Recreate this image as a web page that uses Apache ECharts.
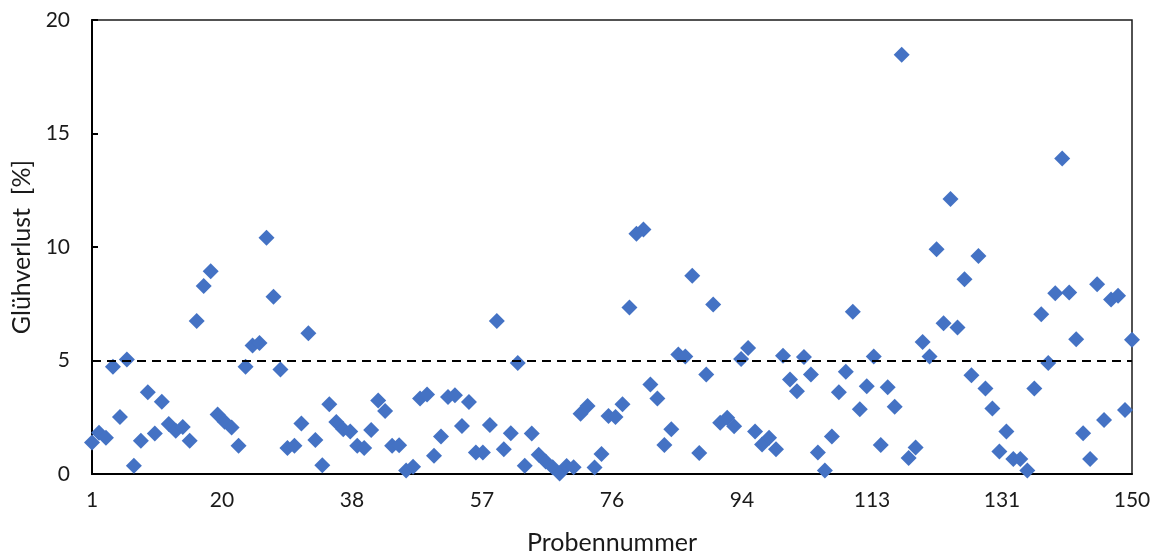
<!DOCTYPE html>
<html>
<head>
<meta charset="utf-8">
<script src="https://cdn.jsdelivr.net/npm/echarts@6/dist/echarts.min.js"></script>
<style>
  html, body { margin: 0; padding: 0; background: #fff; }
  #chart { width: 1157px; height: 560px; }
</style>
</head>
<body>
<div id="chart"></div>
<script>
// Glühverlust je Probe (Probennummer 1..150), in %
const lossValues = [
  1.39, 1.82, 1.60, 4.72, 2.51, 5.04, 0.36, 1.46, 3.60, 1.78,
  3.18, 2.20, 1.90, 2.07, 1.46, 6.74, 8.28, 8.93, 2.62, 2.30,
  2.05, 1.24, 4.72, 5.66, 5.77, 10.41, 7.81, 4.60, 1.14, 1.24,
  2.23, 6.20, 1.50, 0.39, 3.07, 2.29, 1.97, 1.87, 1.24, 1.14,
  1.94, 3.24, 2.77, 1.24, 1.27, 0.15, 0.32, 3.33, 3.50, 0.80,
  1.65, 3.39, 3.47, 2.12, 3.17, 0.95, 0.95, 2.16, 6.74, 1.09,
  1.80, 4.89, 0.36, 1.78, 0.85, 0.55, 0.30, 0.02, 0.35, 0.30,
  2.65, 3.00, 0.29, 0.88, 2.55, 2.51, 3.07, 7.33, 10.58, 10.77,
  3.94, 3.33, 1.28, 1.97, 5.26, 5.18, 8.73, 0.92, 4.38, 7.47,
  2.26, 2.48, 2.10, 5.07, 5.55, 1.87, 1.30, 1.60, 1.09, 5.21,
  4.16, 3.65, 5.15, 4.38, 0.95, 0.15, 1.65, 3.60, 4.50, 7.15,
  2.85, 3.87, 5.18, 1.28, 3.82, 2.96, 18.47, 0.70, 1.17, 5.81,
  5.18, 9.90, 6.64, 12.12, 6.45, 8.58, 4.35, 9.60, 3.77, 2.89,
  0.99, 1.87, 0.66, 0.66, 0.15, 3.77, 7.04, 4.89, 7.96, 13.90,
  8.00, 5.94, 1.80, 0.66, 8.36, 2.38, 7.69, 7.85, 2.82, 5.91
];
// Probennummern
const sampleNumbers = lossValues.map((_, i) => i + 1);
// Grenzwert (gestrichelte Linie)
const limitValue = 5;
// Y-Achse
const yTicks = [0, 5, 10, 15, 20];

const FONT = 'Lato, "Open Sans", sans-serif';
const TEXT = '#1a1a1a';

// x is stored 0-based so the 8 equal axis steps start at a multiple of the interval
const points = sampleNumbers.map((n, i) => [n - 1, lossValues[i]]);
const xSteps = 8;
const xMax = sampleNumbers[sampleNumbers.length - 1] - 1;

const chart = echarts.init(document.getElementById('chart'), null, { renderer: 'canvas' });
chart.setOption({
  animation: false,
  backgroundColor: '#fff',
  grid: {
    left: 92, right: 25, top: 20, bottom: 83,
    show: true, borderColor: '#1a1a1a', borderWidth: 1.5, backgroundColor: 'transparent'
  },
  xAxis: {
    type: 'value',
    min: 0,
    max: xMax,
    interval: xMax / xSteps,
    name: 'Probennummer',
    nameLocation: 'middle',
    nameGap: 56,
    nameTextStyle: { fontFamily: FONT, fontSize: 25, color: TEXT },
    axisLine: { show: true, onZero: false, lineStyle: { color: '#000', width: 2 } },
    axisTick: { show: false },
    splitLine: { show: false },
    axisLabel: {
      fontFamily: FONT, fontSize: 21, color: TEXT, margin: 16,
      formatter: v => String(Math.round(v) + 1)
    }
  },
  yAxis: {
    type: 'value',
    min: yTicks[0],
    max: yTicks[yTicks.length - 1],
    interval: yTicks[1] - yTicks[0],
    name: 'Glühverlust  [%]',
    nameLocation: 'middle',
    nameGap: 57,
    nameTextStyle: { fontFamily: FONT, fontSize: 25, color: TEXT },
    axisLine: { show: true, lineStyle: { color: '#000', width: 2 } },
    axisTick: { show: true, inside: true, length: 6, lineStyle: { color: '#000', width: 2 } },
    splitLine: { show: false },
    axisLabel: { fontFamily: FONT, fontSize: 21, color: TEXT, margin: 22 }
  },
  series: [{
    type: 'scatter',
    data: points,
    symbol: 'diamond',
    symbolSize: 16,
    itemStyle: { color: '#4472C4', opacity: 1 },
    markLine: {
      silent: true,
      symbol: 'none',
      label: { show: false },
      lineStyle: { color: '#000', width: 2, type: [9, 6] },
      data: [{ yAxis: limitValue }]
    }
  }]
});
</script>
</body>
</html>
